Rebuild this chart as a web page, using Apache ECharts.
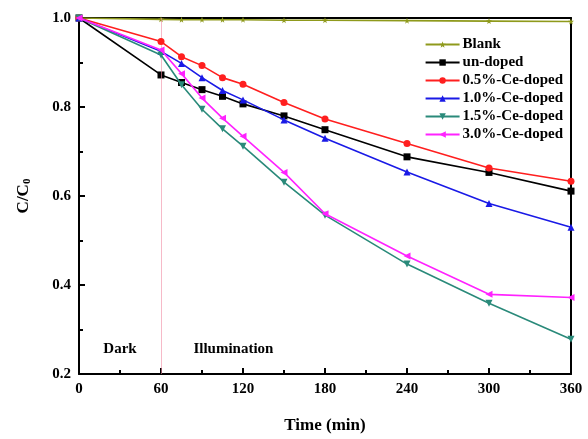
<!DOCTYPE html>
<html>
<head>
<meta charset="utf-8">
<script src="https://cdn.jsdelivr.net/npm/echarts@6/dist/echarts.min.js"></script>
<style>
  html, body { margin: 0; padding: 0; background: #fff; }
  #chart { width: 588px; height: 439px; }
</style>
</head>
<body>
<div id="chart"></div>
<script>
const times = [0, 60, 75, 90, 105, 120, 150, 180, 240, 300, 360]
const blank = [1.0, 0.997, 0.996, 0.996, 0.996, 0.996, 0.995, 0.995, 0.994, 0.993, 0.992]
const undoped = [1.0, 0.872, 0.855, 0.839, 0.824, 0.807, 0.780, 0.749, 0.688, 0.653, 0.611]
const ce05 = [1.0, 0.947, 0.913, 0.893, 0.866, 0.851, 0.810, 0.773, 0.718, 0.663, 0.633]
const ce10 = [1.0, 0.925, 0.898, 0.866, 0.837, 0.816, 0.771, 0.730, 0.654, 0.583, 0.530]
const ce15 = [1.0, 0.917, 0.850, 0.795, 0.751, 0.712, 0.631, 0.557, 0.447, 0.359, 0.278]
const ce30 = [1.0, 0.928, 0.875, 0.820, 0.775, 0.734, 0.653, 0.560, 0.465, 0.379, 0.372]
const seriesNames = ['Blank', 'un-doped', '0.5%-Ce-doped', '1.0%-Ce-doped', '1.5%-Ce-doped', '3.0%-Ce-doped']
const xTicks = [0, 60, 120, 180, 240, 300, 360]
const yTicks = [0.2, 0.4, 0.6, 0.8, 1.0]

const chart = echarts.init(document.getElementById('chart'))
const font = 'Liberation Serif'
const colors = ['#8f9a1c', '#000000', '#ff1f1f', '#1a1ae6', '#2a8a7a', '#ff22ff']
const symbols = [
  'path://M0,-10L2.5,-3L10,-3L4,1.5L6,9L0,4.5L-6,9L-4,1.5L-10,-3L-2.5,-3Z',
  'rect', 'circle', 'triangle',
  'path://M-10,-8L10,-8L0,9Z',
  'path://M-9,0L8,-9L8,9Z'
]
const allData = [blank, undoped, ce05, ce10, ce15, ce30]

const series = allData.map((d, i) => ({
  name: seriesNames[i],
  type: 'line',
  data: d.map((v, k) => [times[k], v]),
  symbol: symbols[i],
  symbolSize: i === 0 ? 6 : 7,
  lineStyle: { color: colors[i], width: 1.6 },
  itemStyle: { color: colors[i] },
  z: 3 + i
}))

series[0].markLine = {
  silent: true,
  symbol: 'none',
  label: { show: false },
  lineStyle: { color: '#f08ca4', width: 1, type: 'solid', opacity: 0.6 },
  data: [{ xAxis: 60 }]
}
series[0].markPoint = {
  silent: true,
  symbolSize: 0,
  label: {
    show: true,
    color: '#000',
    fontFamily: font,
    fontWeight: 'bold',
    fontSize: 15,
    formatter: p => p.name
  },
  data: [
    { name: 'Dark', coord: [30, 0.256] },
    { name: 'Illumination', coord: [113, 0.256] }
  ]
}

chart.setOption({
  backgroundColor: '#fff',
  animation: false,
  grid: { left: 79, right: 17, top: 18, bottom: 64 },
  legend: {
    orient: 'vertical',
    right: 20,
    top: 32,
    itemGap: 3,
    itemWidth: 34,
    itemHeight: 8,
    data: seriesNames,
    textStyle: { fontFamily: font, fontWeight: 'bold', fontSize: 15, color: '#000', padding: [0, 0, 0, -2] }
  },
  xAxis: [{
    type: 'value',
    min: 0,
    max: 360,
    interval: 60,
    name: 'Time (min)',
    nameLocation: 'middle',
    nameGap: 43,
    nameTextStyle: { fontFamily: font, fontWeight: 'bold', fontSize: 17, color: '#000' },
    axisLine: { lineStyle: { color: '#000', width: 2 } },
    axisTick: { inside: true, length: 6, lineStyle: { color: '#000', width: 2 } },
    minorTick: { show: true, splitNumber: 2, length: 4, lineStyle: { color: '#000', width: 2 } },
    splitLine: { show: false },
    axisLabel: {
      fontFamily: font, fontWeight: 'bold', fontSize: 15, color: '#000', margin: 8,
      formatter: v => xTicks.includes(v) ? String(v) : ''
    }
  }, {
    type: 'value',
    position: 'top',
    min: 0,
    max: 360,
    axisLine: { show: true, onZero: false, lineStyle: { color: '#000', width: 2 } },
    axisTick: { show: false },
    axisLabel: { show: false },
    splitLine: { show: false }
  }],
  yAxis: [{
    type: 'value',
    min: 0.2,
    max: 1.0,
    interval: 0.2,
    name: '{a|C/C}{b|0}',
    nameLocation: 'middle',
    nameGap: 46,
    nameRotate: 90,
    nameTextStyle: {
      rich: {
        a: { fontFamily: font, fontWeight: 'bold', fontSize: 17, color: '#000' },
        b: { fontFamily: font, fontWeight: 'bold', fontSize: 11, color: '#000', padding: [8, 0, 0, 0] }
      }
    },
    axisLine: { show: true, lineStyle: { color: '#000', width: 2 } },
    axisTick: { inside: true, length: 6, lineStyle: { color: '#000', width: 2 } },
    minorTick: { show: true, splitNumber: 2, length: 4, lineStyle: { color: '#000', width: 2 } },
    splitLine: { show: false },
    axisLabel: {
      fontFamily: font, fontWeight: 'bold', fontSize: 15, color: '#000', margin: 8,
      formatter: v => {
        const t = yTicks.find(y => Math.abs(y - v) < 1e-6)
        return t === undefined ? '' : t.toFixed(1)
      }
    }
  }, {
    type: 'value',
    position: 'right',
    min: 0.2,
    max: 1.0,
    axisLine: { show: true, onZero: false, lineStyle: { color: '#000', width: 2 } },
    axisTick: { show: false },
    axisLabel: { show: false },
    splitLine: { show: false }
  }],
  series: series
})
</script>
</body>
</html>
